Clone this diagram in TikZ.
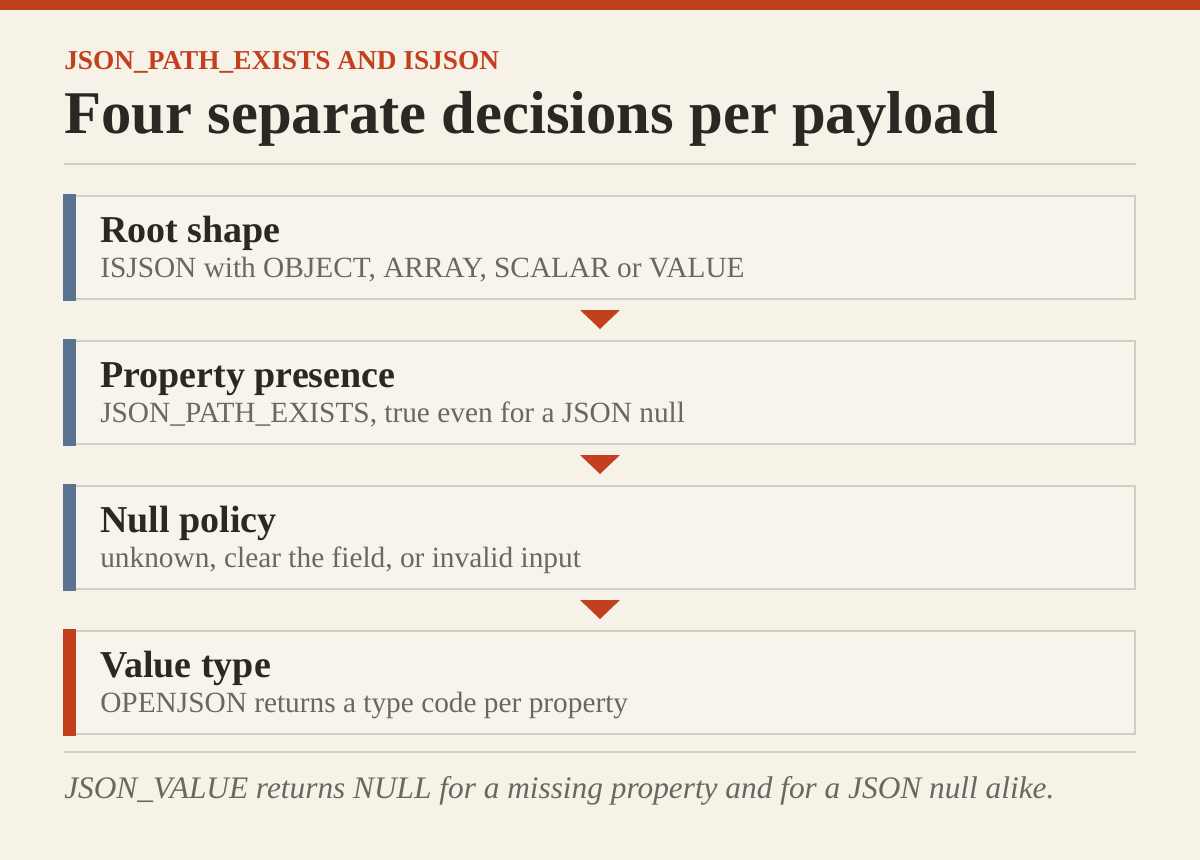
\documentclass[tikz,border=0pt]{standalone}
\usepackage{fontspec}
\setmainfont{Liberation Serif}
\usetikzlibrary{positioning,calc}

\definecolor{paper}{HTML}{F7F2E8}
\definecolor{boxfill}{HTML}{F8F4EC}
\definecolor{rust}{HTML}{C2401E}
\definecolor{slate}{HTML}{5A7390}
\definecolor{ink}{HTML}{2B2824}
\definecolor{muted}{HTML}{6B665E}
\definecolor{rulegrey}{HTML}{D4CDC1}

\begin{document}
\begin{tikzpicture}[x=0.75pt,y=-0.75pt,node distance=30pt,
    step box/.style={draw=rulegrey,line width=1.5pt,fill=boxfill,rectangle,minimum width=802.5pt,minimum height=77.25pt,inner sep=0pt},
    head text/.style={anchor=base west,inner sep=0pt,text=ink,font=\bfseries\fontsize{28.5}{33}\selectfont},
    sub text/.style={anchor=base west,inner sep=0pt,text=muted,font=\fontsize{22}{26}\selectfont}]

            % canvas and top band
            \fill[paper] (0,0) rectangle (1200,860);
            \fill[rust] (0,0) rectangle (1200,10);

            \node[anchor=base west,inner sep=0pt,text=rust,font=\bfseries\fontsize{20.5}{24}\selectfont] (kicker) at (64,69) {JSON\_PATH\_EXISTS AND ISJSON};
            \node[anchor=base west,inner sep=0pt,text=ink,font=\bfseries\fontsize{45.5}{53}\selectfont] (title) at (64,133) {Four separate decisions per payload};
            \draw[rulegrey,line width=1.5pt] (64,164) -- (1136,164);

            % the four steps
            \node[step box,anchor=north west] (root) at (64,195) {};
            \node[step box,below=of root] (presence) {};
            \node[step box,below=of presence] (policy) {};
            \node[step box,below=of policy] (vtype) {};

            \foreach \b/\c in {root/slate,presence/slate,policy/slate,vtype/rust}
                \fill[\c] ($(\b.north west)+(-1,-1)$) rectangle ($(\b.south west)+(12,1)$);

            \node[head text] (rootH) at ($(root.north west)+(36,47)$) {Root shape};
            \node[sub text] (rootS) at ($(root.north west)+(36,82)$) {ISJSON with OBJECT, ARRAY, SCALAR or VALUE};
            \node[head text] (presenceH) at ($(presence.north west)+(36,47)$) {Property presence};
            \node[sub text] (presenceS) at ($(presence.north west)+(36,82)$) {JSON\_PATH\_EXISTS, true even for a JSON null};
            \node[head text] (policyH) at ($(policy.north west)+(36,47)$) {Null policy};
            \node[sub text] (policyS) at ($(policy.north west)+(36,82)$) {unknown, clear the field, or invalid input};
            \node[head text] (vtypeH) at ($(vtype.north west)+(36,47)$) {Value type};
            \node[sub text] (vtypeS) at ($(vtype.north west)+(36,82)$) {OPENJSON returns a type code per property};

            % arrows between steps
            \foreach \a/\b in {root/presence,presence/policy,policy/vtype}{
                \path (\a.south) -- (\b.north) coordinate[midway] (m);
                \fill[rust] ($(m)+(-20,-10)$) -- ($(m)+(20,-10)$) -- ($(m)+(0,9)$) -- cycle;
            }

            \draw[rulegrey,line width=1.5pt] (64,752) -- (1136,752);
            \node[anchor=base west,inner sep=0pt,text=muted,font=\itshape\fontsize{23.5}{28}\selectfont] (note) at (64,798) {JSON\_VALUE returns NULL for a missing property and for a JSON null alike.};

            ;
        \end{tikzpicture}
\end{document}
